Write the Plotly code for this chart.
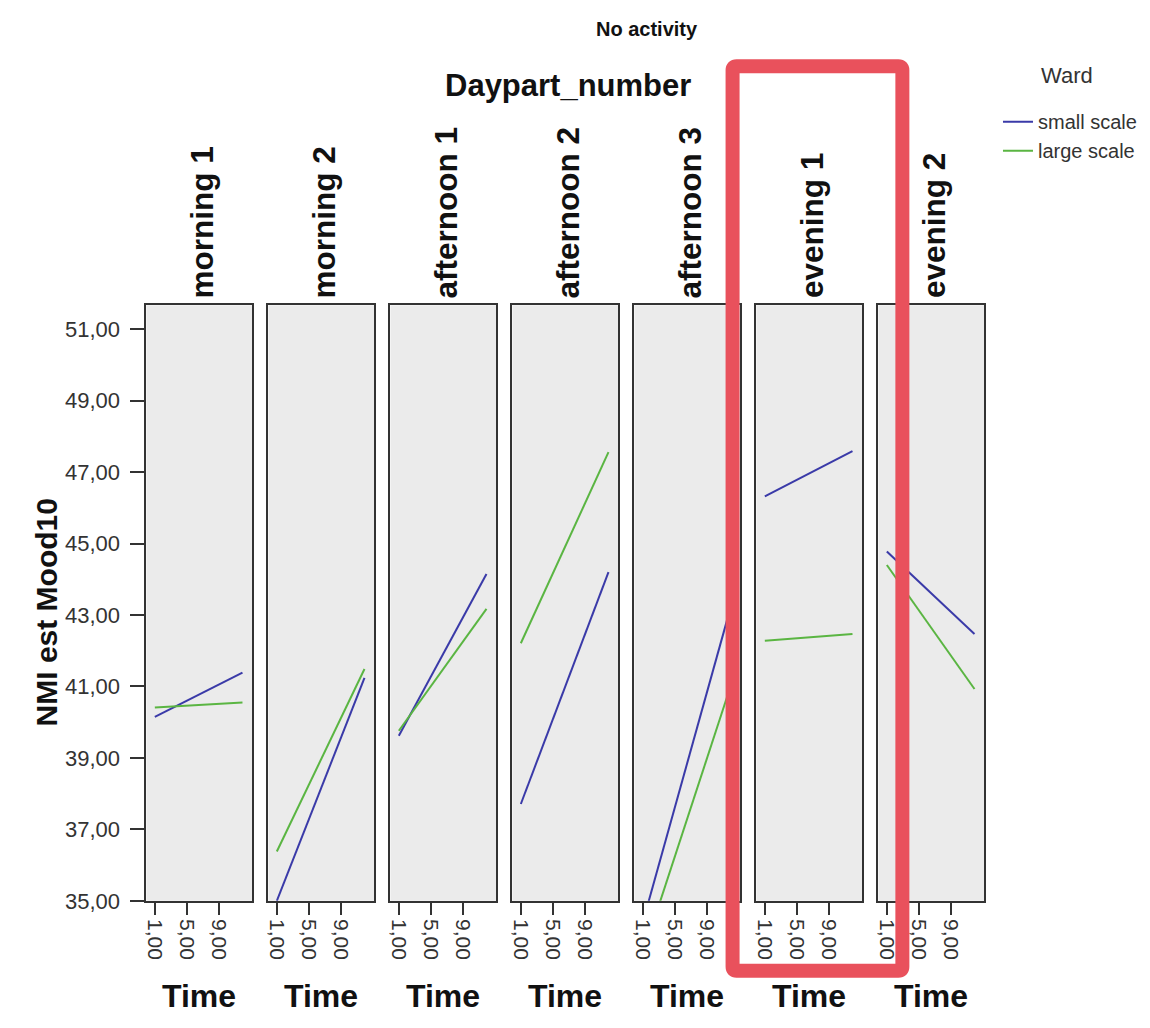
import plotly.graph_objects as go

# ---------------- data ----------------
dayparts = ["morning 1", "morning 2", "afternoon 1", "afternoon 2",
            "afternoon 3", "evening 1", "evening 2"]
times = [1, 12]
small_start = [40.15, 35.00, 39.62, 37.71, 34.40, 46.32, 44.78]
small_end = [41.39, 41.24, 44.15, 44.20, 43.20, 47.59, 42.47]
large_start = [40.41, 36.38, 39.76, 42.21, 33.50, 42.28, 44.40]
large_end = [40.55, 41.49, 43.17, 47.56, 41.00, 42.47, 40.93]
series_names = ["small scale", "large scale"]
y_tickvals = [35, 37, 39, 41, 43, 45, 47, 49, 51]
y_ticktext = ["35,00", "37,00", "39,00", "41,00", "43,00", "45,00", "47,00", "49,00", "51,00"]
x_tickvals = [1, 5, 9]
x_ticktext = ["1,00", "5,00", "9,00"]

# ---------------- layout helpers ----------------
OFF = 8                      # browser body margin
SX = 1.003                   # small compensation of the capture scaling
SY = 1042 / 1028
W = 1150 - 2 * OFF
H = 1042 - 2 * OFF
FONT = "Liberation Sans, Arial, Helvetica, sans-serif"
BLUE = "#3a3aa8"
GREEN = "#5ab542"
BOX = "#333333"
PANEL_BG = "#ebebeb"


def px(x):
    return (x * SX - OFF) / W


def py(y):
    return 1 - (y * SY - OFF) / H


PANEL_LEFT, STEP, PANEL_W = 145, 122.5, 106
TOP, BOTTOM = 305, 900
Y_RANGE = [35, 51.67]
X_RANGE = [-0.05, 13.2]

fig = go.Figure()
layout = dict(
    width=W, height=H,
    margin=dict(l=0, r=0, t=0, b=0),
    paper_bgcolor="white", plot_bgcolor=PANEL_BG,
    font=dict(family=FONT, color="#222"),
    showlegend=True,
)

annotations = []
for i, name in enumerate(dayparts):
    k = "" if i == 0 else str(i + 1)
    left = PANEL_LEFT + STEP * i
    right = left + PANEL_W
    center = (left + right) / 2
    fig.add_trace(go.Scatter(
        x=times, y=[small_start[i], small_end[i]], mode="lines",
        line=dict(color=BLUE, width=2), name=series_names[0],
        legendgroup="small", showlegend=(i == 0),
        xaxis="x" + k, yaxis="y" + k))
    fig.add_trace(go.Scatter(
        x=times, y=[large_start[i], large_end[i]], mode="lines",
        line=dict(color=GREEN, width=2), name=series_names[1],
        legendgroup="large", showlegend=(i == 0),
        xaxis="x" + k, yaxis="y" + k))
    layout["xaxis" + k] = dict(
        domain=[px(left), px(right)], anchor="y" + k, range=X_RANGE,
        showgrid=False, zeroline=False, showline=True, mirror=True,
        linecolor=BOX, linewidth=2,
        tickmode="array", tickvals=x_tickvals, ticktext=x_ticktext,
        ticks="outside", ticklen=12, tickwidth=2, tickcolor=BOX,
        tickangle=90, tickfont=dict(size=21, color="#333"))
    layout["yaxis" + k] = dict(
        domain=[py(BOTTOM), py(TOP)], anchor="x" + k, range=Y_RANGE,
        showgrid=False, zeroline=False, showline=True, mirror=True,
        linecolor=BOX, linewidth=2,
        tickmode="array", tickvals=y_tickvals, ticktext=y_ticktext,
        ticks="outside" if i == 0 else "", ticklen=14, tickwidth=2,
        tickcolor=BOX, showticklabels=(i == 0), ticklabelstandoff=6,
        tickfont=dict(size=22, color="#333"))
    annotations.append(dict(
        text=name, x=px(center + 3), y=py(300), xref="paper", yref="paper",
        xanchor="center", yanchor="bottom", textangle=-90, showarrow=False,
        font=dict(size=31.5, color="#111", family=FONT, weight="bold")))
    annotations.append(dict(
        text="Time", x=px(center), y=py(995), xref="paper", yref="paper",
        xanchor="center", yanchor="middle", showarrow=False,
        font=dict(size=32, color="#111", family=FONT, weight="bold")))

annotations += [
    dict(text="No activity", x=px(648), y=py(29), xref="paper", yref="paper",
         xanchor="center", yanchor="middle", showarrow=False,
         font=dict(size=20, color="#111", family=FONT, weight="bold")),
    dict(text="Daypart_number", x=px(568), y=py(85), xref="paper", yref="paper",
         xanchor="center", yanchor="middle", showarrow=False,
         font=dict(size=31, color="#111", family=FONT, weight="bold")),
    dict(text="NMI est Mood10", x=px(45), y=py(612), xref="paper", yref="paper",
         xanchor="center", yanchor="middle", textangle=-90, showarrow=False,
         font=dict(size=30, color="#111", family=FONT, weight="bold")),
    dict(text="Ward", x=px(1069), y=py(75), xref="paper", yref="paper",
         xanchor="center", yanchor="middle", showarrow=False,
         font=dict(size=22, color="#333", family=FONT)),
]
layout["annotations"] = annotations

layout["legend"] = dict(
    x=px(1000), y=py(102), xanchor="left", yanchor="top",
    font=dict(size=20, color="#333"), tracegroupgap=0,
    bgcolor="rgba(0,0,0,0)", borderwidth=0)

# red highlight box
x0, x1, y0, y1, r = 733.5, 904, 66, 970, 4
path = (f"M {px(x0 + r)},{py(y0)} L {px(x1 - r)},{py(y0)} "
        f"Q {px(x1)},{py(y0)} {px(x1)},{py(y0 + r)} "
        f"L {px(x1)},{py(y1 - r)} Q {px(x1)},{py(y1)} {px(x1 - r)},{py(y1)} "
        f"L {px(x0 + r)},{py(y1)} Q {px(x0)},{py(y1)} {px(x0)},{py(y1 - r)} "
        f"L {px(x0)},{py(y0 + r)} Q {px(x0)},{py(y0)} {px(x0 + r)},{py(y0)} Z")
layout["shapes"] = [
    dict(type="path", xref="paper", yref="paper", path=path,
         line=dict(color="#e9515c", width=14), layer="above"),
]

fig.update_layout(**layout)
fig.write_html("out.html")
